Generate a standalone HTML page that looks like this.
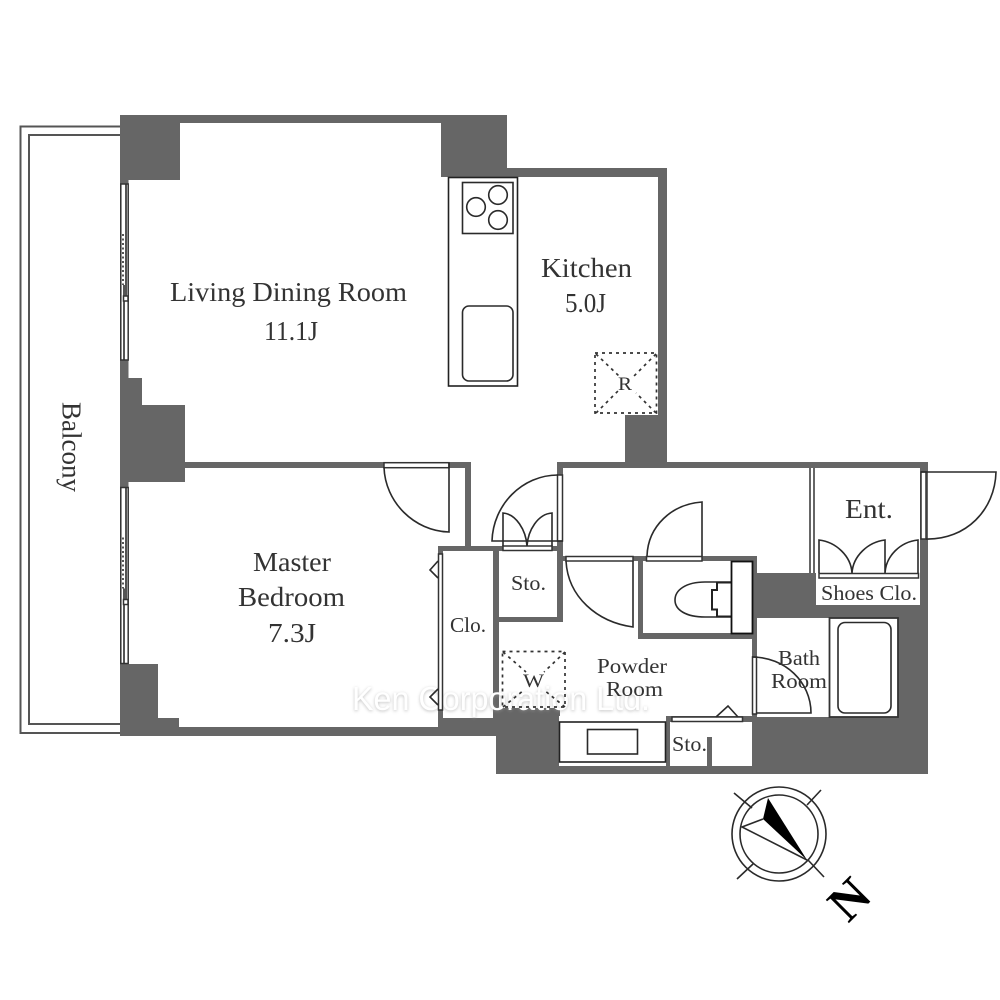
<!DOCTYPE html>
<html><head><meta charset="utf-8"><style>
html,body{margin:0;padding:0;background:#fff}
svg{display:block}
text{font-family:"Liberation Serif",serif;fill:#333}
.l{fill:none;stroke:#2a2a2a;stroke-width:1.6}
.s{fill:#fff;stroke:#333;stroke-width:1.5}
.d{fill:none;stroke:#333;stroke-width:1.7;stroke-dasharray:3 4}
</style></head><body>
<svg width="1000" height="1000" viewBox="0 0 1000 1000" xmlns="http://www.w3.org/2000/svg">
<defs><filter id="b" x="-5%" y="-30%" width="110%" height="160%"><feGaussianBlur stdDeviation="1.6"/></filter></defs>
<rect width="1000" height="1000" fill="#fff"/>
<!-- balcony -->
<path d="M120 126.500H20.500V733H120M120 135H29V724H120" fill="none" stroke="#555" stroke-width="2"/>
<!-- walls -->
<g fill="#666">
<rect x="120" y="115" width="387" height="8"/><rect x="120" y="115" width="60" height="65"/>
<rect x="441" y="115" width="66" height="62"/><rect x="507" y="168" width="160" height="9"/>
<rect x="658" y="168" width="9" height="294"/><rect x="625" y="415" width="42" height="47"/>
<rect x="120" y="115" width="8.500" height="621"/><rect x="120" y="378" width="22" height="104"/>
<rect x="142" y="405" width="43" height="77"/><rect x="185" y="462" width="286" height="6"/>
<rect x="465" y="462" width="6" height="89"/><rect x="438" y="546" width="119" height="5"/>
<rect x="438" y="546" width="5" height="190"/><rect x="120" y="664" width="38" height="72"/>
<rect x="158" y="718" width="21" height="18"/><rect x="120" y="727" width="377" height="9"/>
<rect x="438" y="718" width="60" height="18"/>
<rect x="493" y="546" width="6" height="172"/><rect x="493" y="708" width="67" height="28"/>
<rect x="496" y="708" width="64" height="66"/><rect x="557" y="462" width="6" height="160"/>
<rect x="493" y="617" width="70" height="5"/><rect x="557" y="462" width="371" height="6"/>
<rect x="920" y="462" width="8" height="312"/><rect x="557" y="556" width="200" height="5"/>
<rect x="638" y="556" width="5" height="83"/><rect x="638" y="633" width="119" height="6"/>
<rect x="752" y="556" width="5" height="162"/><rect x="757" y="573" width="171" height="45"/>
<rect x="898" y="573" width="30" height="201"/><rect x="496" y="766" width="432" height="8"/>
<rect x="666" y="716" width="86" height="6"/><rect x="666" y="716" width="4" height="50"/>
<rect x="752" y="717" width="176" height="57"/><rect x="707" y="737" width="5" height="29"/>
<rect x="809" y="468" width="6" height="105"/>
</g>
<rect x="811" y="468" width="2" height="105" fill="#fff"/>
<rect x="816" y="573" width="104" height="32" fill="#fff"/>
<!-- watermark -->
<text x="352" y="711" textLength="298" lengthAdjust="spacingAndGlyphs" style="fill:#999;font-family:'Liberation Sans',sans-serif;font-size:33px" filter="url(#b)" opacity=".6">Ken Corporation Ltd.</text>
<text x="352" y="710" textLength="298" lengthAdjust="spacingAndGlyphs" style="fill:#fff;font-family:'Liberation Sans',sans-serif;font-size:33px">Ken Corporation Ltd.</text>
<!-- windows -->
<rect x="120.800" y="184" width="7.400" height="176" class="s"/>
<path d="M126 184V296M124 285V296M124 301V360" class="l"/>
<path d="M123 234V285" stroke="#555" stroke-width="2" stroke-dasharray="2 2.500" fill="none"/>
<rect x="123.500" y="296" width="4.500" height="5" class="s"/>
<g transform="translate(0,303.500)">
<rect x="120.800" y="184" width="7.400" height="176" class="s"/>
<path d="M126 184V296M124 285V296M124 301V360" class="l"/>
<path d="M123 234V285" stroke="#555" stroke-width="2" stroke-dasharray="2 2.500" fill="none"/>
<rect x="123.500" y="296" width="4.500" height="5" class="s"/>
</g>
<!-- kitchen -->
<rect x="448.500" y="177.500" width="69" height="208.500" fill="#fff" stroke="#222" stroke-width="1.600"/>
<rect x="462.500" y="182.500" width="50.500" height="51" class="l"/>
<circle cx="476" cy="207" r="9.300" class="l"/><circle cx="498" cy="195" r="9.300" class="l"/><circle cx="498" cy="220" r="9.300" class="l"/>
<rect x="462.500" y="306" width="50.500" height="75" rx="6.500" class="l"/>
<rect x="595" y="353" width="61.500" height="60" class="d"/>
<path d="M596 354L619 376M656 354L634 376M596 413L618 391M656 413L636 393" class="d"/>
<!-- W box -->
<rect x="502.500" y="651.500" width="62.500" height="55.500" class="d"/>
<path d="M503 652L526 672M565 652L544 672M503 707L524 690M565 707L544 690" class="d"/>
<!-- master door -->
<rect x="384" y="462.700" width="65" height="5" class="s"/>
<path d="M449 463V532C414 531 385 502 384 467" class="l"/>
<!-- corridor door to closet area -->
<rect x="557.500" y="475" width="5" height="66" class="s"/>
<path d="M558 475C522 475 493 505 492 541H563" class="l"/>
<!-- sto doors -->
<rect x="503" y="546" width="49" height="4.500" class="s"/>
<path d="M503 546V513C516 514 526 530 527 546C528 530 538 514 552 513V546" class="l"/>
<!-- clo door -->
<rect x="438.500" y="554" width="4" height="156" class="s"/>
<path d="M438 561L430 570L438 578M438 689L430 697L438 705" class="l"/>
<!-- powder door -->
<rect x="566" y="556.500" width="67" height="4.500" class="s"/>
<path d="M633 561V627C597 622 568 597 566 561" class="l"/>
<!-- WC door -->
<rect x="646.500" y="556.500" width="55.500" height="4.500" class="s"/>
<path d="M702 556V502C672 504 648 526 647 556" class="l"/>
<!-- toilet -->
<path d="M731 582H705C686 582 675 590 675 600C675 610 686 617 705 617H731" class="l"/>
<path d="M731 582.500H717V590H712V609.500H717V616.500H731" fill="#fff" stroke="#222" stroke-width="2"/>
<rect x="731.500" y="561.500" width="21" height="72" fill="#ffffff" stroke="#111" stroke-width="1.800"/>
<!-- ent door -->
<rect x="921" y="472" width="5" height="67" class="s"/>
<path d="M921 472H996C995 510 966 540 926 539" class="l"/>
<!-- shoes -->
<rect x="819" y="573.500" width="99.500" height="4.500" class="s"/>
<path d="M819 573V540C836 542 851 556 852 573C853 556 868 542 885 540V573M885 573C886 556 900 542 918 540V573" class="l"/>
<!-- bath -->
<rect x="757" y="618" width="72" height="99" fill="#fff"/>
<rect x="829.500" y="618" width="68.500" height="99" fill="#fff" stroke="#333" stroke-width="1.800"/>
<rect x="838" y="622.500" width="53" height="90.500" rx="7" class="l"/>
<rect x="752.500" y="657" width="4" height="57" class="s"/>
<path d="M752 657C785 657 811 682 811 713H756" class="l"/>
<!-- vanity -->
<rect x="559" y="716" width="107" height="50" fill="#fff"/>
<rect x="559.500" y="722" width="106" height="40" fill="#fff" stroke="#222" stroke-width="1.600"/>
<rect x="587.500" y="729.500" width="50" height="24.500" class="l"/>
<rect x="672" y="717" width="70.500" height="4.500" class="s"/>
<path d="M716 717L728 706L738 717" class="l"/>
<!-- compass -->
<circle cx="779" cy="834" r="47" class="l"/><circle cx="779" cy="834" r="39" class="l"/>
<path d="M734 793L752 808M821 790L807 805M737 879L753 864M824 877L808 860" class="l"/>
<path d="M807 860L768 798L763 819Z" fill="#000"/>
<path d="M763 819L742 827L807 860" class="l"/>
<!-- labels -->
<text x="170" y="301" font-size="27.500" textLength="237" lengthAdjust="spacingAndGlyphs">Living Dining Room</text>
<text x="264" y="340" font-size="27.500" textLength="54" lengthAdjust="spacingAndGlyphs">11.1J</text>
<text x="541" y="277" font-size="27.500" textLength="91" lengthAdjust="spacingAndGlyphs">Kitchen</text>
<text x="565" y="312" font-size="27.500" textLength="41" lengthAdjust="spacingAndGlyphs">5.0J</text>
<text x="618" y="390" font-size="19" textLength="14" lengthAdjust="spacingAndGlyphs">R</text>
<text transform="translate(62.500,402) rotate(90)" font-size="27.500" textLength="90" lengthAdjust="spacingAndGlyphs">Balcony</text>
<text x="253" y="571" font-size="27.500" textLength="78" lengthAdjust="spacingAndGlyphs">Master</text>
<text x="238" y="606" font-size="27.500" textLength="107" lengthAdjust="spacingAndGlyphs">Bedroom</text>
<text x="268" y="642" font-size="27.500" textLength="48" lengthAdjust="spacingAndGlyphs">7.3J</text>
<text x="450" y="632" font-size="21" textLength="36" lengthAdjust="spacingAndGlyphs">Clo.</text>
<text x="511" y="590" font-size="21" textLength="35" lengthAdjust="spacingAndGlyphs">Sto.</text>
<text x="523" y="687" font-size="19" textLength="21" lengthAdjust="spacingAndGlyphs">W</text>
<text x="597" y="673" font-size="21" textLength="70" lengthAdjust="spacingAndGlyphs">Powder</text>
<text x="606" y="696" font-size="21" textLength="57" lengthAdjust="spacingAndGlyphs">Room</text>
<text x="672" y="751" font-size="21" textLength="35" lengthAdjust="spacingAndGlyphs">Sto.</text>
<text x="778" y="665" font-size="21" textLength="42" lengthAdjust="spacingAndGlyphs">Bath</text>
<text x="771" y="688" font-size="21" textLength="56" lengthAdjust="spacingAndGlyphs">Room</text>
<text x="845" y="518" font-size="27.500" textLength="48" lengthAdjust="spacingAndGlyphs">Ent.</text>
<text x="821" y="600" font-size="21" textLength="96" lengthAdjust="spacingAndGlyphs">Shoes Clo.</text>
<text transform="translate(849,899) rotate(-45)" text-anchor="middle" y="17" font-size="50" style="fill:#000;font-weight:bold">N</text>
</svg>
</body></html>
